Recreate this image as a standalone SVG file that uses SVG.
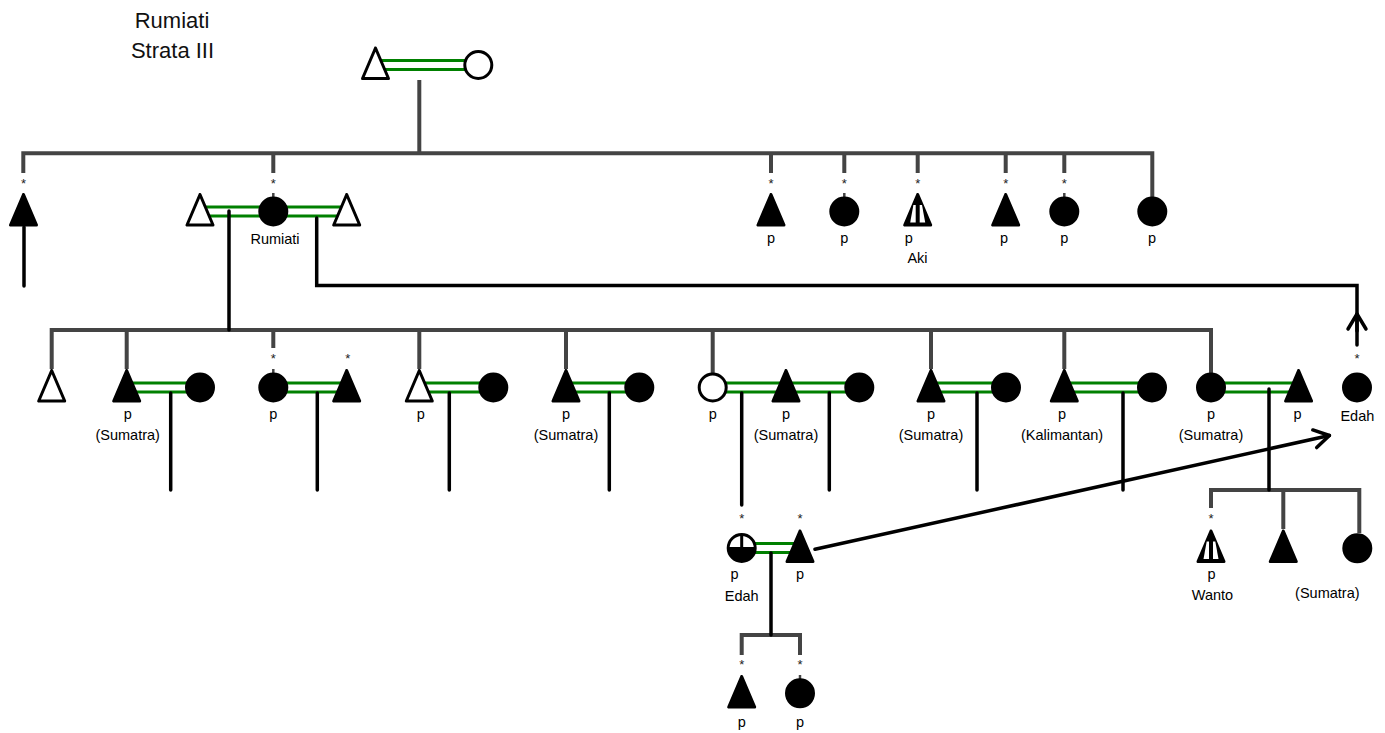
<svg xmlns="http://www.w3.org/2000/svg" xmlns:xlink="http://www.w3.org/1999/xlink" width="1385" height="733" viewBox="0 0 1385 733">
<defs>
<style>
.sib{stroke:#444;stroke-width:4;fill:none;stroke-linejoin:miter}
.desc{stroke:#000;stroke-width:3.5;fill:none;stroke-linecap:round;stroke-linejoin:miter}
.mar{stroke:#008000;stroke-width:3;fill:none}
.sym{stroke:#000;stroke-width:3;stroke-linejoin:round}
.f{fill:#000}
.h{fill:#fff}
.tick{stroke:#444;stroke-width:2.5}
.lbl{font-family:"Liberation Sans",Arial,sans-serif;font-size:14.5px;text-anchor:middle;fill:#000}
.star{font-family:"Liberation Sans",Arial,sans-serif;font-size:13px;text-anchor:middle;fill:#222}
.title{font-family:"Liberation Sans",Arial,sans-serif;font-size:22px;text-anchor:middle;fill:#111}
</style>
<polygon id="tri" points="0,-17 -13,13.5 13,13.5"/>
<circle id="cir" r="13.5"/>
<g id="twin"><polygon points="-4.3,-6.5 4.3,-6.5 7.5,11 -7.5,11" fill="#fff"/><line x1="0" y1="-7" x2="0" y2="12" stroke="#000" stroke-width="4"/></g>
<marker id="arr" markerUnits="userSpaceOnUse" viewBox="-20 -12 24 24" refX="0" refY="0" markerWidth="24" markerHeight="24" orient="auto" overflow="visible"><path d="M-15,-9 L0,0 L-15,9" fill="none" stroke="#000" stroke-width="3.5" stroke-linecap="round" stroke-linejoin="round"/></marker>
</defs>
<rect width="1385" height="733" fill="#fff"/>

<g id="title">
<text class="title" x="172" y="28">Rumiati</text>
<text class="title" x="172.5" y="58">Strata III</text>
</g>

<g id="connectors">
<!-- marriage lines -->
<path class="mar" d="M375.5 60.5H478.3M375.5 69.5H478.3"/>
<path class="mar" d="M200 207H346.7M200 216H346.7"/>
<path class="mar" d="M126.7 383H200M126.7 392H200"/>
<path class="mar" d="M273.3 383H346.7M273.3 392H346.7"/>
<path class="mar" d="M419.3 383H493.3M419.3 392H493.3"/>
<path class="mar" d="M566 383H639.3M566 392H639.3"/>
<path class="mar" d="M712.7 383H859.3M712.7 392H859.3"/>
<path class="mar" d="M931 383H1006M931 392H1006"/>
<path class="mar" d="M1064.3 383H1152M1064.3 392H1152"/>
<path class="mar" d="M1211 383H1298.6M1211 392H1298.6"/>
<path class="mar" d="M741.7 543.5H800M741.7 552.5H800"/>
<!-- sibling lines -->
<path class="sib" d="M419.3 80V153.3"/>
<path class="sib" d="M23.3 173V153.3H1152.3V197"/>
<path class="sib" d="M273.3 153.3V173M771 153.3V173M844.3 153.3V173M917.7 153.3V173M1005.7 153.3V173M1064.3 153.3V173"/>
<path class="sib" d="M51.7 369V330H1211V373"/>
<path class="sib" d="M126.7 330V369M273.3 330V348M419.3 330V369M566 330V369M712.7 330V373M931 330V369M1064.3 330V369"/>
<path class="sib" d="M741.7 655V635H800V655"/>
<path class="sib" d="M1211 508V490H1359.3V533M1283.3 490V529"/>
<!-- descents -->
<path class="desc" d="M229 211V330"/>
<path class="desc" d="M170.7 393V490M317.3 393V490M449.3 393V490M609.3 393V490M829.3 393V490M977 393V490M1123 393V490"/>
<path class="desc" d="M741.7 393V505"/>
<path class="desc" d="M1269 389V490"/>
<path class="desc" d="M771 553V635"/>
<!-- other lines / arrows -->
<path class="desc" d="M24 227V286"/>
<path class="desc" d="M316.7 218V285.5H1357V345"/>
<path class="desc" d="M1357 331V314" marker-end="url(#arr)"/>
<path class="desc" d="M815 549.3L1329.4 435.5" marker-end="url(#arr)"/>
</g>

<!-- generation 0 -->
<g id="n_g0_father"><use href="#tri" class="sym h" x="375.5" y="65"/></g>
<g id="n_g0_mother"><use href="#cir" class="sym h" x="478.3" y="65"/></g>

<!-- generation 1 -->
<g id="n_g1_son1"><use href="#tri" class="sym f" x="23.5" y="211.5"/><text class="star" x="23.5" y="187.5">*</text></g>
<g id="n_g1_husband1"><use href="#tri" class="sym h" x="200" y="211.5"/></g>
<g id="n_rumiati"><line class="tick" x1="273.3" y1="193" x2="273.3" y2="198"/><use href="#cir" class="sym f" x="273.3" y="211.5"/><text class="star" x="273.3" y="187.5">*</text><text class="lbl" x="275" y="244">Rumiati</text></g>
<g id="n_g1_husband2"><use href="#tri" class="sym h" x="346.7" y="211.5"/></g>
<g id="n_g1_s3"><use href="#tri" class="sym f" x="771" y="211.5"/><text class="star" x="771" y="187.5">*</text><text class="lbl" x="771" y="243">p</text></g>
<g id="n_g1_s4"><line class="tick" x1="844.3" y1="193" x2="844.3" y2="198"/><use href="#cir" class="sym f" x="844.3" y="211.5"/><text class="star" x="844.3" y="187.5">*</text><text class="lbl" x="844.3" y="243">p</text></g>
<g id="n_aki"><use href="#tri" class="sym f" x="917.7" y="211.5"/><use href="#twin" x="917.7" y="211.5"/><text class="star" x="917.7" y="187.5">*</text><text class="lbl" x="908.8" y="243">p</text><text class="lbl" x="917.5" y="263">Aki</text></g>
<g id="n_g1_s6"><use href="#tri" class="sym f" x="1005.7" y="211.5"/><text class="star" x="1005.7" y="187.5">*</text><text class="lbl" x="1004" y="243">p</text></g>
<g id="n_g1_s7"><line class="tick" x1="1064.3" y1="193" x2="1064.3" y2="198"/><use href="#cir" class="sym f" x="1064.3" y="211.5"/><text class="star" x="1064.3" y="187.5">*</text><text class="lbl" x="1064.3" y="243">p</text></g>
<g id="n_g1_s8"><use href="#cir" class="sym f" x="1152.3" y="211.5"/><text class="lbl" x="1152" y="243">p</text></g>

<!-- generation 2 -->
<g id="n_g2_c1"><use href="#tri" class="sym h" x="51.7" y="387.5"/></g>
<g id="n_g2_c2"><use href="#tri" class="sym f" x="126.7" y="387.5"/><text class="lbl" x="127.7" y="418.5">p</text><text class="lbl" x="127.7" y="440.3">(Sumatra)</text></g>
<g id="n_g2_c2w"><use href="#cir" class="sym f" x="200" y="387.5"/></g>
<g id="n_g2_c3"><line class="tick" x1="273.3" y1="369" x2="273.3" y2="374"/><use href="#cir" class="sym f" x="273.3" y="387.5"/><text class="star" x="273.3" y="362.5">*</text><text class="lbl" x="273.3" y="418.5">p</text></g>
<g id="n_g2_c3h"><use href="#tri" class="sym f" x="346.7" y="387.5"/><text class="star" x="347.7" y="362.5">*</text></g>
<g id="n_g2_c4"><use href="#tri" class="sym h" x="419.3" y="387.5"/><text class="lbl" x="420.7" y="418.5">p</text></g>
<g id="n_g2_c4w"><use href="#cir" class="sym f" x="493.3" y="387.5"/></g>
<g id="n_g2_c5"><use href="#tri" class="sym f" x="566" y="387.5"/><text class="lbl" x="566" y="418.5">p</text><text class="lbl" x="566" y="440.3">(Sumatra)</text></g>
<g id="n_g2_c5w"><use href="#cir" class="sym f" x="639.3" y="387.5"/></g>
<g id="n_g2_c6"><use href="#cir" class="sym h" x="712.7" y="387.5"/><text class="lbl" x="712.7" y="418.5">p</text></g>
<g id="n_g2_c6h"><use href="#tri" class="sym f" x="786" y="387.5"/><text class="lbl" x="786" y="418.5">p</text><text class="lbl" x="786" y="440.3">(Sumatra)</text></g>
<g id="n_g2_c6w"><use href="#cir" class="sym f" x="859.3" y="387.5"/></g>
<g id="n_g2_c7"><use href="#tri" class="sym f" x="931" y="387.5"/><text class="lbl" x="931" y="418.5">p</text><text class="lbl" x="931" y="440.3">(Sumatra)</text></g>
<g id="n_g2_c7w"><use href="#cir" class="sym f" x="1006" y="387.5"/></g>
<g id="n_g2_c8"><use href="#tri" class="sym f" x="1064.3" y="387.5"/><text class="lbl" x="1062" y="418.5">p</text><text class="lbl" x="1062" y="440.3">(Kalimantan)</text></g>
<g id="n_g2_c8w"><use href="#cir" class="sym f" x="1152" y="387.5"/></g>
<g id="n_g2_c9"><use href="#cir" class="sym f" x="1211" y="387.5"/><text class="lbl" x="1211" y="418.5">p</text><text class="lbl" x="1211" y="440.3">(Sumatra)</text></g>
<g id="n_g2_c9h"><use href="#tri" class="sym f" x="1298.6" y="387.5"/><text class="lbl" x="1297.6" y="418.5">p</text></g>
<g id="n_edah_ref"><use href="#cir" class="sym f" x="1357" y="387.5"/><text class="star" x="1357" y="362.5">*</text><text class="lbl" x="1357.4" y="420.5">Edah</text></g>

<!-- generation 3 -->
<g id="n_edah"><use href="#cir" class="sym h" x="741.7" y="548"/><path d="M728.2 548A13.5 13.5 0 0 0 755.2 548Z" fill="#000"/><line x1="741.7" y1="534.5" x2="741.7" y2="548" stroke="#000" stroke-width="3"/><line x1="728.2" y1="548" x2="755.2" y2="548" stroke="#000" stroke-width="2"/><text class="star" x="741.7" y="522.5">*</text><text class="lbl" x="734.5" y="579">p</text><text class="lbl" x="741.7" y="600.5">Edah</text></g>
<g id="n_edah_h"><use href="#tri" class="sym f" x="800" y="548"/><text class="star" x="800" y="522.5">*</text><text class="lbl" x="800" y="579">p</text></g>
<g id="n_wanto"><use href="#tri" class="sym f" x="1211" y="548"/><use href="#twin" x="1211" y="548"/><text class="star" x="1211" y="522.5">*</text><text class="lbl" x="1211.5" y="579">p</text><text class="lbl" x="1212.5" y="600">Wanto</text></g>
<g id="n_g3_b"><use href="#tri" class="sym f" x="1283.3" y="548"/></g>
<g id="n_g3_c"><use href="#cir" class="sym f" x="1357.3" y="548.3"/><text class="lbl" x="1327.3" y="598">(Sumatra)</text></g>

<!-- generation 4 -->
<g id="n_g4_a"><use href="#tri" class="sym f" x="741.7" y="693.5"/><text class="star" x="741.7" y="669">*</text><text class="lbl" x="741.7" y="727">p</text></g>
<g id="n_g4_b"><line class="tick" x1="800" y1="675" x2="800" y2="680"/><use href="#cir" class="sym f" x="800" y="693.3"/><text class="star" x="800" y="669">*</text><text class="lbl" x="800" y="727">p</text></g>
</svg>
